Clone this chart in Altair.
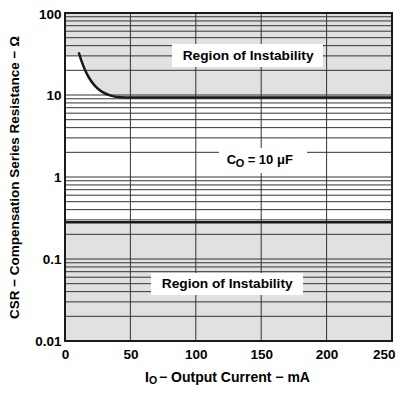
import altair as alt
import pandas as pd

# ---- data ----
curve_x = [10.5, 12.8, 15.3, 18.6, 22.9, 28.1, 34.4, 42.0, 50, 250]
curve_y = [33.2, 25.5, 20.2, 16.0, 12.9, 11.0, 9.9, 9.4, 9.3, 9.3]
area_lead_x = [0, 10.4]
area_lead_y = [30, 30]
lower_limit = 0.28
x_ticks = [0, 50, 100, 150, 200, 250]
y_ticks = [0.01, 0.1, 1, 10, 100]
h_grid = [k * 10.0 ** n for n in range(-2, 2) for k in range(1, 10) if not (k == 1 and n == -2)]
v_grid = [50, 100, 150, 200]

FONT = "Liberation Sans"
GRAY = "#e1e1e1"
GRID = "#333333"

xs = alt.Scale(domain=[0, 250], nice=False, zero=False)
ys = alt.Scale(type="log", domain=[0.01, 100], nice=False)

area_df = pd.DataFrame({"x": area_lead_x + curve_x, "y": area_lead_y + curve_y, "top": 100})
curve_df = pd.DataFrame({"x": curve_x, "y": curve_y})

base_x = alt.X("x:Q", scale=xs, axis=alt.Axis(
    values=x_ticks, title=None, ticks=False, domain=False, grid=False,
    labelFont=FONT, labelFontWeight="bold", labelFontSize=13.5,
    labelColor="#000", labelPadding=6, labelFlush=False,
    labelAlign={"condition": {"test": "datum.value == 250", "value": "right"}, "value": "center"},
    labelOffset={"condition": {"test": "datum.value == 250", "value": 3}, "value": 0}))
base_y = alt.Y("y:Q", scale=ys, axis=alt.Axis(
    values=y_ticks, format="~g", ticks=False, domain=False, grid=False,
    title="CSR − Compensation Series Resistance − Ω",
    titleFont=FONT, titleFontWeight="bold", titleFontSize=13.5,
    titleColor="#000", titlePadding=13,
    labelFont=FONT, labelFontWeight="bold", labelFontSize=13.5,
    labelColor="#000", labelPadding=4, labelFlush=False,
    labelOffset={"condition": {"test": "datum.value == 100", "value": 1.5}, "value": 0}))

top_area = alt.Chart(area_df).mark_area(color=GRAY, interpolate="monotone").encode(
    x=base_x, y=base_y, y2="top:Q")

low_df = pd.DataFrame({"x": [0], "x2": [250], "y": [0.01], "y2": [lower_limit]})
low_rect = alt.Chart(low_df).mark_rect(color=GRAY).encode(
    x=alt.X("x:Q", scale=xs), x2="x2:Q", y=alt.Y("y:Q", scale=ys), y2="y2:Q")

hg = alt.Chart(pd.DataFrame({"y": h_grid})).mark_rule(color=GRID, strokeWidth=1).encode(
    y=alt.Y("y:Q", scale=ys))
vg = alt.Chart(pd.DataFrame({"x": v_grid})).mark_rule(color=GRID, strokeWidth=1).encode(
    x=alt.X("x:Q", scale=xs))

curve = alt.Chart(curve_df).mark_line(color="#1a1a1a", strokeWidth=2.5, interpolate="monotone").encode(
    x=alt.X("x:Q", scale=xs), y=alt.Y("y:Q", scale=ys))

low_line = alt.Chart(pd.DataFrame({"y": [lower_limit]})).mark_rule(color="#1a1a1a", strokeWidth=2.5).encode(
    y=alt.Y("y:Q", scale=ys))

boxes_df = pd.DataFrame({
    "x": [81.8, 65.7, 117.7],
    "x2": [197.2, 182.0, 185.0],
    "y": [21.9, 0.0364, 1.12],
    "y2": [41.9, 0.0675, 2.26],
})
boxes = alt.Chart(boxes_df).mark_rect(color="white").encode(
    x=alt.X("x:Q", scale=xs), x2="x2:Q", y=alt.Y("y:Q", scale=ys), y2="y2:Q")

region_df = pd.DataFrame({"x": [140, 124], "y": [30, 0.05], "t": ["Region of Instability"] * 2})
region_txt = alt.Chart(region_df).mark_text(font=FONT, fontWeight="bold", fontSize=13.7, color="#000",
                                            baseline="middle", align="center").encode(
    x=alt.X("x:Q", scale=xs), y=alt.Y("y:Q", scale=ys), text="t:N")

co_x = [123.6]
co_y = [1.59]
c_txt = alt.Chart(pd.DataFrame({"x": co_x, "y": co_y, "t": ["C"]})).mark_text(
    font=FONT, fontWeight="bold", fontSize=13, color="#000", baseline="middle", align="left").encode(
    x=alt.X("x:Q", scale=xs), y=alt.Y("y:Q", scale=ys), text="t:N")
o_txt = alt.Chart(pd.DataFrame({"x": co_x, "y": co_y, "t": ["O"]})).mark_text(
    font=FONT, fontWeight="bold", fontSize=11, color="#000", baseline="middle", align="left", dx=9, dy=4).encode(
    x=alt.X("x:Q", scale=xs), y=alt.Y("y:Q", scale=ys), text="t:N")
rest_txt = alt.Chart(pd.DataFrame({"x": co_x, "y": co_y, "t": ["= 10 μF"]})).mark_text(
    font=FONT, fontWeight="bold", fontSize=13, color="#000", baseline="middle", align="left", dx=21).encode(
    x=alt.X("x:Q", scale=xs), y=alt.Y("y:Q", scale=ys), text="t:N")

# x-axis title with subscript
xt_x = [61.2]
xt_y = [0.01]
xi = alt.Chart(pd.DataFrame({"x": xt_x, "y": xt_y, "t": ["I"]})).mark_text(
    font=FONT, fontWeight="bold", fontSize=14, color="#000", baseline="alphabetic", align="left", dy=41, clip=False).encode(
    x=alt.X("x:Q", scale=xs), y=alt.Y("y:Q", scale=ys), text="t:N")
xo = alt.Chart(pd.DataFrame({"x": xt_x, "y": xt_y, "t": ["O"]})).mark_text(
    font=FONT, fontWeight="bold", fontSize=10.5, color="#000", baseline="alphabetic", align="left", dx=4, dy=43, clip=False).encode(
    x=alt.X("x:Q", scale=xs), y=alt.Y("y:Q", scale=ys), text="t:N")
xr = alt.Chart(pd.DataFrame({"x": xt_x, "y": xt_y, "t": ["− Output Current − mA"]})).mark_text(
    font=FONT, fontWeight="bold", fontSize=14, color="#000", baseline="alphabetic", align="left", dx=14, dy=41, clip=False).encode(
    x=alt.X("x:Q", scale=xs), y=alt.Y("y:Q", scale=ys), text="t:N")

frame = alt.Chart(pd.DataFrame({"x": [0], "x2": [250], "y": [0.01], "y2": [100]})).mark_rect(
    filled=False, stroke="#1a1a1a", strokeWidth=2).encode(
    x=alt.X("x:Q", scale=xs), x2="x2:Q", y=alt.Y("y:Q", scale=ys), y2="y2:Q")

chart = alt.layer(
    top_area, low_rect, hg, vg, curve, low_line, boxes, region_txt, c_txt, o_txt, rest_txt, xi, xo, xr, frame
).properties(
    width=327, height=328,
    autosize=alt.AutoSizeParams(type="none"),
    padding={"left": 57, "top": 5, "right": 4, "bottom": 44},
).configure_view(stroke=None).configure(background="white")

chart.save("out.html", embed_options={"renderer": "svg", "actions": False})
